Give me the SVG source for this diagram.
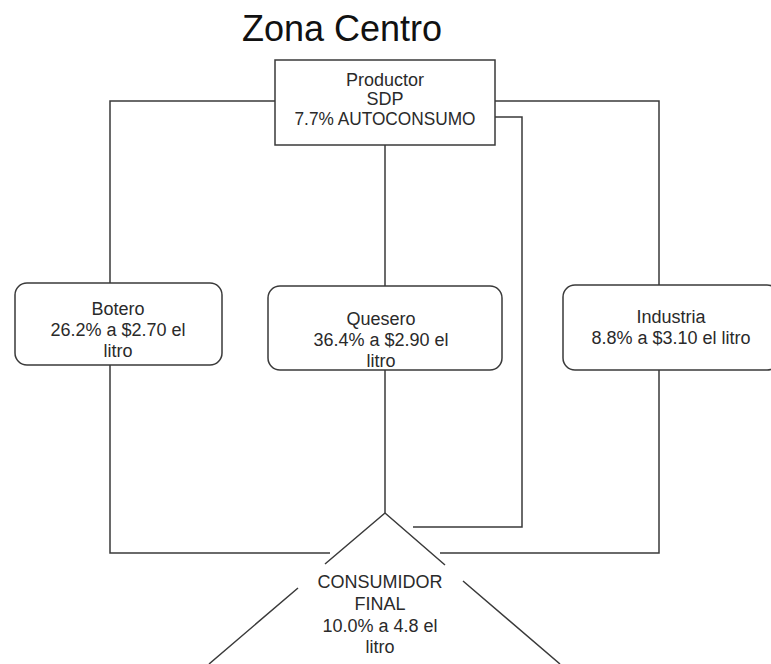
<svg xmlns="http://www.w3.org/2000/svg" width="771" height="664" viewBox="0 0 771 664">
<style>
.bg{fill:#ffffff}
.box{fill:#ffffff;stroke:#3a3a3a;stroke-width:1.5}
.ln{fill:none;stroke:#3a3a3a;stroke-width:1.5}
.t{font-family:"Liberation Sans",Arial,sans-serif;font-size:18px;fill:#2a2a2a;text-anchor:middle}
.ts{font-family:"Liberation Sans",Arial,sans-serif;font-size:18px;fill:#2a2a2a;text-anchor:middle}
.title{font-family:"Liberation Sans",Arial,sans-serif;font-size:36px;fill:#111;text-anchor:middle}
</style>
<rect class="bg" x="0" y="0" width="771" height="664"/>
<text class="title" x="342" y="41">Zona Centro</text>
<g id="connectors">
<path class="ln" d="M275,101 H110 V283"/>
<path class="ln" d="M495,101 H659 V285"/>
<path class="ln" d="M495,117 H522 V527 H413"/>
<path class="ln" d="M385,145 V286"/>
<path class="ln" d="M385,370 V513"/>
<path class="ln" d="M110,365 V553 H330"/>
<path class="ln" d="M659,370 V553 H440"/>
</g>
<g id="productor">
<rect class="box" x="275" y="60" width="220" height="85"/>
<text class="ts" x="385" y="86">Productor</text>
<text class="ts" x="385" y="105">SDP</text>
<text class="ts" x="385" y="125" textLength="181" lengthAdjust="spacingAndGlyphs">7.7% AUTOCONSUMO</text>
</g>
<g id="botero">
<rect class="box" x="15" y="283" width="207" height="82" rx="12"/>
<text class="t" x="118" y="315">Botero</text>
<text class="t" x="118" y="336">26.2% a $2.70 el</text>
<text class="t" x="118" y="357">litro</text>
</g>
<g id="quesero">
<rect class="box" x="268" y="286" width="234" height="84" rx="12"/>
<text class="t" x="381" y="325">Quesero</text>
<text class="t" x="381" y="346">36.4% a $2.90 el</text>
<text class="t" x="381" y="367">litro</text>
</g>
<g id="industria">
<rect class="box" x="563" y="285" width="216" height="85" rx="12"/>
<text class="t" x="671" y="323">Industria</text>
<text class="t" x="671" y="344">8.8% a $3.10 el litro</text>
</g>
<g id="consumidor">
<path class="ln" d="M385,513 L325,564 M298,588 L209,664 M385,513 L445,565 M463,581 L560,664"/>
<text class="t" x="380" y="588">CONSUMIDOR</text>
<text class="t" x="380" y="610">FINAL</text>
<text class="t" x="380" y="632">10.0% a 4.8 el</text>
<text class="t" x="380" y="653">litro</text>
</g>
</svg>
